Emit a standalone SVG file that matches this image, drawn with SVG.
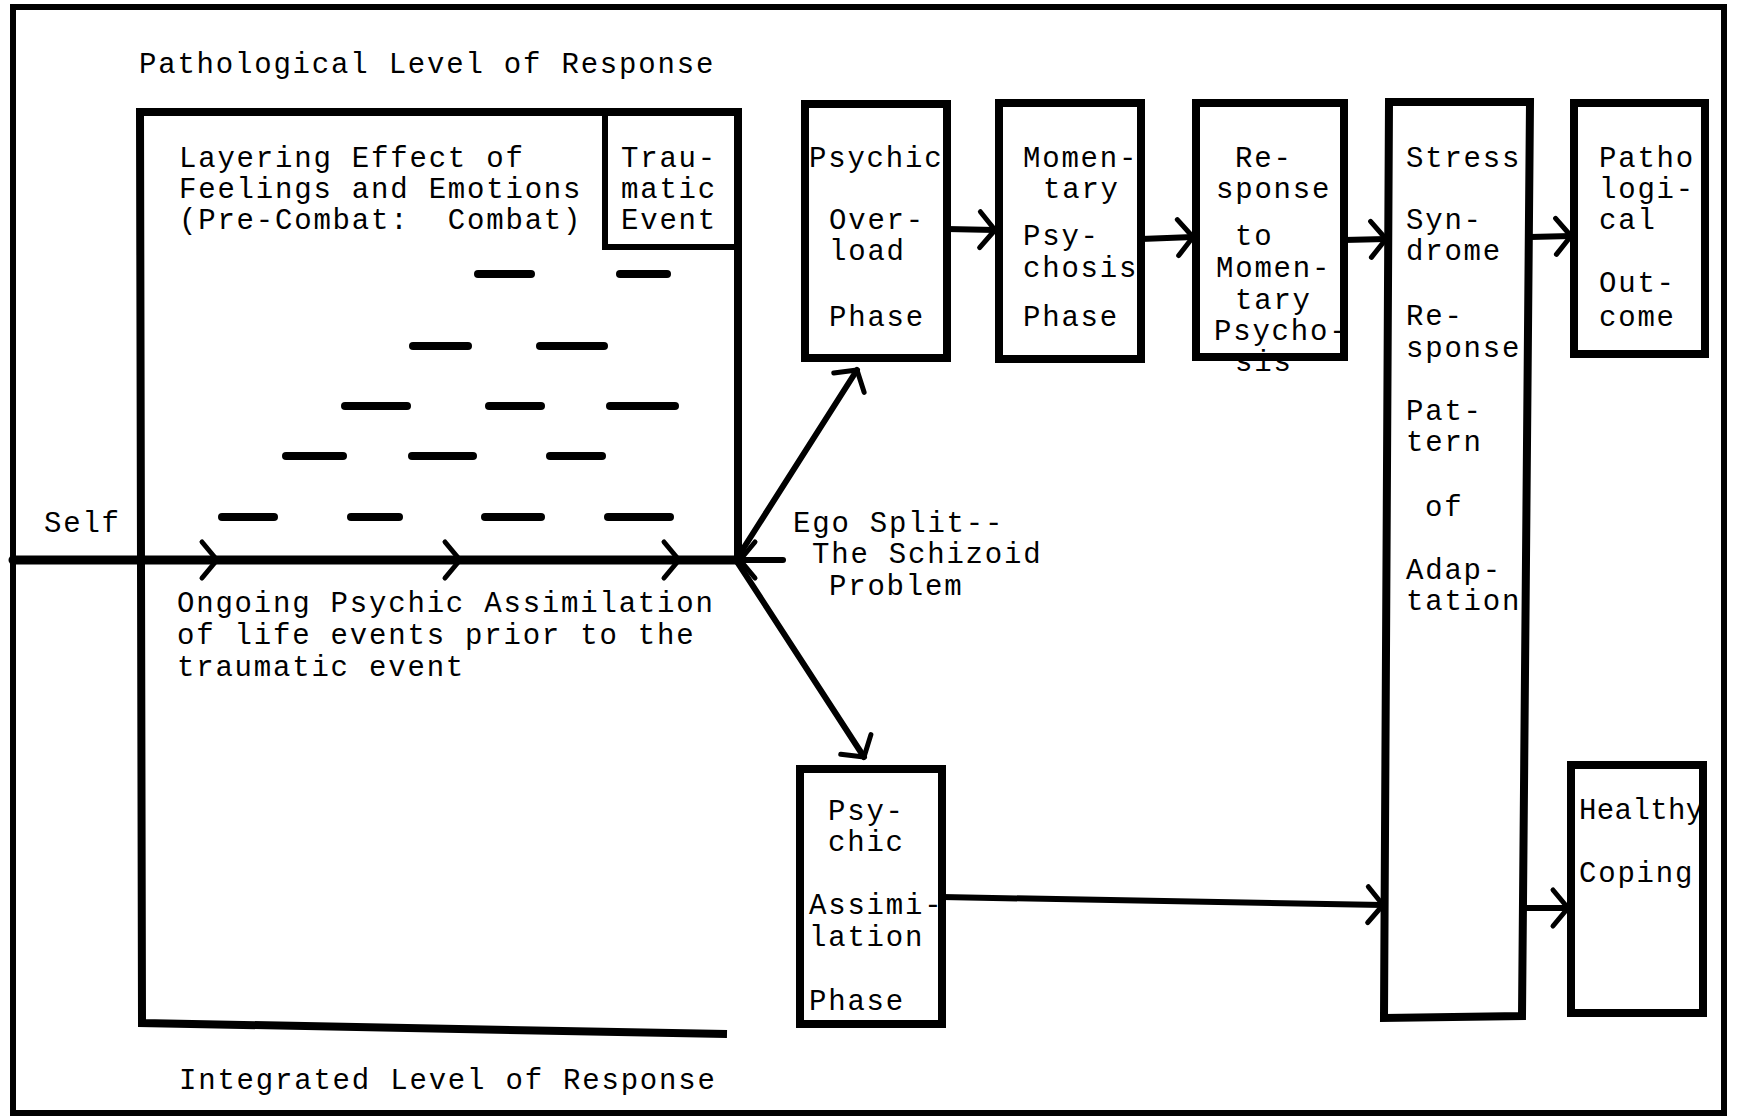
<svg xmlns="http://www.w3.org/2000/svg" width="1741" height="1119" viewBox="0 0 1741 1119">
<defs>
<style>
text { font-family: "Liberation Mono", "DejaVu Sans Mono", monospace; font-size: 29px; letter-spacing: 1.8px; fill: #000; }
.box { fill: none; stroke: #000; stroke-width: 8; stroke-linejoin: miter; }
.thin { fill: none; stroke: #000; stroke-width: 6; }
.conn { fill: none; stroke: #000; stroke-width: 6; stroke-linecap: round; }
.main { stroke-width: 9; }
.dash { stroke: #000; stroke-width: 8; stroke-linecap: round; }
</style>
<marker id="chev" markerUnits="userSpaceOnUse" viewBox="-24 -26 30 52" markerWidth="30" markerHeight="52" refX="0" refY="0" orient="auto" overflow="visible">
<path d="M -15 -18 L 0 0 L -15 18" fill="none" stroke="#000" stroke-width="5" stroke-linecap="round" stroke-linejoin="round"/>
</marker>
</defs>
<rect x="0" y="0" width="1741" height="1119" fill="#fff"/>
<rect id="frame" x="13" y="7" width="1711" height="1106" fill="none" stroke="#000" stroke-width="6"/>

<g id="level-labels">
<text x="139" y="73">Pathological Level of Response</text>
<text x="179" y="1089">Integrated Level of Response</text>
</g>

<g id="layering">
<path class="box" d="M 738 561 L 738 112 L 140 112 L 142 1023 L 727 1034"/>
<text x="179" y="167">Layering Effect of</text>
<text x="179" y="198">Feelings and Emotions</text>
<text x="179" y="229" xml:space="preserve">(Pre-Combat:  Combat)</text>
<g id="layers">
<line class="dash" x1="478" y1="274" x2="531" y2="274"/>
<line class="dash" x1="620" y1="274" x2="667" y2="274"/>
<line class="dash" x1="413" y1="346" x2="468" y2="346"/>
<line class="dash" x1="540" y1="346" x2="604" y2="346"/>
<line class="dash" x1="345" y1="406" x2="407" y2="406"/>
<line class="dash" x1="489" y1="406" x2="541" y2="406"/>
<line class="dash" x1="610" y1="406" x2="675" y2="406"/>
<line class="dash" x1="286" y1="456" x2="343" y2="456"/>
<line class="dash" x1="412" y1="456" x2="473" y2="456"/>
<line class="dash" x1="550" y1="456" x2="602" y2="456"/>
<line class="dash" x1="222" y1="517" x2="274" y2="517"/>
<line class="dash" x1="351" y1="517" x2="399" y2="517"/>
<line class="dash" x1="485" y1="517" x2="541" y2="517"/>
<line class="dash" x1="608" y1="517" x2="670" y2="517"/>
</g>
</g>

<g id="traumatic-event">
<path class="thin" d="M 605 112 L 605 247 L 738 247"/>
<text x="621" y="167">Trau-</text>
<text x="621" y="198">matic</text>
<text x="621" y="229">Event</text>
</g>

<g id="self">
<text x="44" y="532">Self</text>
<text x="177" y="612">Ongoing Psychic Assimilation</text>
<text x="177" y="644">of life events prior to the</text>
<text x="177" y="676">traumatic event</text>
</g>

<g id="ego-split">
<text x="793" y="532">Ego Split--</text>
<text x="812" y="563">The Schizoid</text>
<text x="829" y="595">Problem</text>
</g>

<g id="psychic-overload">
<text x="809" y="167">Psychic</text>
<text x="829" y="229">Over-</text>
<text x="829" y="260">load</text>
<text x="829" y="326">Phase</text>
<rect class="box" x="805" y="104" width="142" height="254"/>
</g>

<g id="momentary-psychosis">
<text x="1023" y="167">Momen-</text>
<text x="1043" y="198">tary</text>
<text x="1023" y="245">Psy-</text>
<text x="1023" y="277">chosis</text>
<text x="1023" y="326">Phase</text>
<rect class="box" x="999" y="103" width="142" height="256"/>
</g>

<g id="response-to-psychosis">
<text x="1235" y="167">Re-</text>
<text x="1216" y="198">sponse</text>
<text x="1235" y="245">to</text>
<text x="1216" y="277">Momen-</text>
<text x="1235" y="309">tary</text>
<text x="1214" y="340">Psycho-</text>
<text x="1235" y="371">sis</text>
<rect class="box" x="1196" y="103" width="148" height="254"/>
</g>

<g id="stress-syndrome">
<text x="1406" y="167">Stress</text>
<text x="1406" y="229">Syn-</text>
<text x="1406" y="260">drome</text>
<text x="1406" y="325">Re-</text>
<text x="1406" y="357">sponse</text>
<text x="1406" y="420">Pat-</text>
<text x="1406" y="451">tern</text>
<text x="1425" y="516">of</text>
<text x="1406" y="579">Adap-</text>
<text x="1406" y="610">tation</text>
<path class="box" d="M 1389 102 L 1530 102 L 1522 1016 L 1384 1018 Z"/>
</g>

<g id="pathological-outcome">
<text x="1599" y="167">Patho</text>
<text x="1599" y="198">logi-</text>
<text x="1599" y="229">cal</text>
<text x="1599" y="292">Out-</text>
<text x="1599" y="326">come</text>
<rect class="box" x="1574" y="103" width="131" height="251"/>
</g>

<g id="healthy-coping">
<text x="1579" y="819" style="letter-spacing:0.4px">Healthy</text>
<text x="1579" y="882">Coping</text>
<rect class="box" x="1571" y="765" width="132" height="248"/>
</g>

<g id="psychic-assimilation">
<text x="828" y="820">Psy-</text>
<text x="828" y="851">chic</text>
<text x="809" y="914">Assimi-</text>
<text x="809" y="946">lation</text>
<text x="809" y="1010">Phase</text>
<rect class="box" x="800" y="769" width="142" height="255"/>
</g>

<g id="connectors">
<polyline class="conn main" points="13,560 217,560 460,560 679,560 736,560" marker-mid="url(#chev)"/>
<line class="conn" x1="783" y1="560" x2="740" y2="560" marker-end="url(#chev)"/>
<line class="conn" x1="736" y1="560" x2="857" y2="370" marker-end="url(#chev)"/>
<line class="conn" x1="736" y1="560" x2="864" y2="757" marker-end="url(#chev)"/>
<line class="conn" x1="947" y1="229" x2="995" y2="230" marker-end="url(#chev)"/>
<line class="conn" x1="1141" y1="239" x2="1193" y2="237" marker-end="url(#chev)"/>
<line class="conn" x1="1344" y1="240" x2="1386" y2="239" marker-end="url(#chev)"/>
<line class="conn" x1="1530" y1="237" x2="1571" y2="236" marker-end="url(#chev)"/>
<line class="conn" x1="942" y1="897" x2="1383" y2="905" marker-end="url(#chev)"/>
<line class="conn" x1="1522" y1="908" x2="1568" y2="908" marker-end="url(#chev)"/>
</g>
</svg>
